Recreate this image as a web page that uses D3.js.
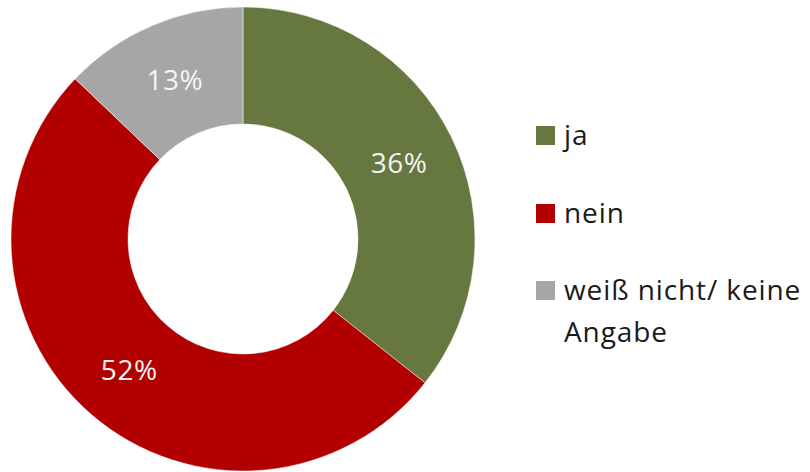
<!DOCTYPE html>
<html>
<head>
<meta charset="utf-8">
<script src="https://cdn.jsdelivr.net/npm/d3@7"></script>
<style>
  body { margin: 0; background: #fff; }
  svg { font-family: "Open Sans", "Noto Sans", sans-serif; }
</style>
</head>
<body>
<svg id="svg1" width="810" height="472"></svg>
<script>
// data
var categories = ['ja', 'nein', 'weiß nicht/ keine Angabe'];
var values = [36, 52, 13];
var labels = ['36%', '52%', '13%'];
var colors = ['#66773f', '#b20000', '#a6a6a6'];

var svg = d3.select('svg');

var cx = 243, cy = 239;
var outerR = 232, innerR = 115;

var pie = d3.pie().sort(null).value(function(d){ return d; });
var arc = d3.arc().innerRadius(innerR).outerRadius(outerR);
var labelArc = d3.arc().innerRadius((innerR + outerR) / 2).outerRadius((innerR + outerR) / 2);

var g = svg.append('g')
    .attr('transform', 'translate(' + cx + ',' + cy + ')');

var arcs = pie(values);

g.selectAll('path')
    .data(arcs)
    .enter()
    .append('path')
    .attr('d', arc)
    .attr('fill', function(d, i){ return colors[i]; })
    .attr('stroke', '#fff')
    .attr('stroke-width', 0.5);

g.selectAll('text')
    .data(arcs)
    .enter()
    .append('text')
    .attr('transform', function(d){ return 'translate(' + labelArc.centroid(d) + ')'; })
    .attr('text-anchor', 'middle')
    .attr('dy', '0.36em')
    .attr('font-size', 28)
    .attr('letter-spacing', 0.5)
    .attr('fill', '#f4f4f4')
    .text(function(d, i){ return labels[i]; });

// legend
var legendRows = [145, 223, 300];
var legend = svg.append('g');

categories.forEach(function(c, i){
    legend.append('rect')
        .attr('x', 536)
        .attr('y', legendRows[i] - 19)
        .attr('width', 19)
        .attr('height', 19)
        .attr('fill', colors[i]);

    var t = legend.append('text')
        .attr('x', 564)
        .attr('y', legendRows[i])
        .attr('font-size', 28)
        .attr('letter-spacing', 0.9)
        .attr('fill', '#1a1a1a');

    if (i === 2) {
        t.append('tspan').attr('x', 564).text('weiß nicht/ keine');
        t.append('tspan').attr('x', 564).attr('dy', 42).text('Angabe');
    } else {
        t.text(c);
    }
});
</script>
</body>
</html>
